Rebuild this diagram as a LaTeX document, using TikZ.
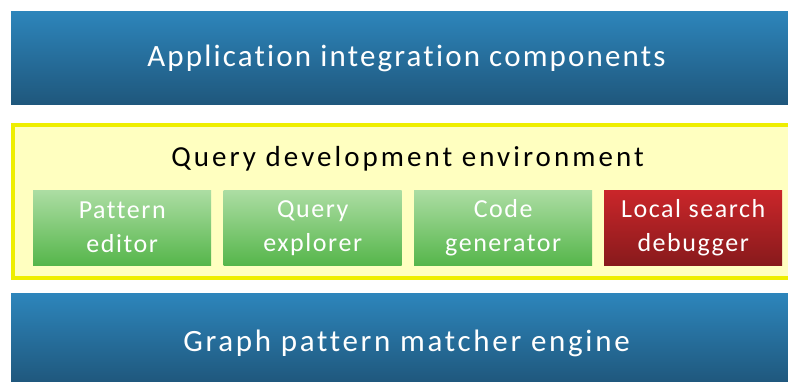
\documentclass[tikz,border=0pt]{standalone}
\usepackage{fontspec}
\setmainfont{Carlito}
\newfontfamily\titlefont[LetterSpace=7,Ligatures=NoCommon]{Carlito}
\newfontfamily\envfont[LetterSpace=10.5,Ligatures=NoCommon]{Carlito}
\newfontfamily\enginefont[LetterSpace=8.7,Ligatures=NoCommon]{Carlito}
\newfontfamily\toolfont[LetterSpace=6,Ligatures=NoCommon]{Carlito}
\begin{document}
\begin{tikzpicture}[x=1pt,y=-1pt,
  bluebar/.style={anchor=north west, minimum width=790pt, minimum height=93pt,
    inner sep=0pt, top color=barTop, bottom color=barBottom, draw=none},
  envbox/.style={anchor=north west, minimum width=790pt, minimum height=153.5pt,
    inner sep=0pt, fill=envFill, draw=envLine, line width=4pt},
  tool/.style={anchor=north west, minimum width=178pt, minimum height=75pt,
    inner sep=0pt, draw=none, text=white, align=center,
    font=\toolfont\fontsize{26}{34}\selectfont},
  greentool/.style={tool, top color=greenTop, bottom color=greenBottom},
  redtool/.style={tool, top color=redTop, bottom color=redBottom},
  title/.style={anchor=base, inner sep=0pt}
]
\definecolor{barTop}{HTML}{2D85BB}
\definecolor{barBottom}{HTML}{1F577C}
\definecolor{envFill}{HTML}{FFFFC0}
\definecolor{envLine}{HTML}{EEEE00}
\definecolor{greenTop}{HTML}{ACDDA3}
\definecolor{greenBottom}{HTML}{56B64B}
\definecolor{redTop}{HTML}{CA262A}
\definecolor{redBottom}{HTML}{881A1C}

\useasboundingbox (0,0) rectangle (788,381);

% application layer
\node[bluebar, minimum height=93pt] (app) at (11,11) {};
\node[title, text=white, font=\titlefont\fontsize{31}{36}\selectfont] (appText) at (406.5,66.7)
  {Application integration components};

% query development environment
\node[envbox] (env) at (11,122.5) {};
\node[title, font=\envfont\fontsize{29}{34}\selectfont] (envText) at (407.5,166.7)
  {Query development environment};

\node[greentool, yshift=-1pt] (pattern) at (33,189) {Pattern\\editor};
\node[greentool, yshift=-1pt] (explorer) at (223.5,189) {Query\\explorer};
\node[greentool, yshift=-1pt] (codegen) at (414,189) {Code\\generator};
\node[redtool, yshift=-1pt] (debugger) at (604,189) {Local search\\debugger};

% engine layer
\node[bluebar, minimum height=90pt] (engine) at (11,293.5) {};
\node[title, text=white, font=\enginefont\fontsize{31}{36}\selectfont] (engineText) at (406.5,351.7)
  {Graph pattern matcher engine};
\end{tikzpicture}
\end{document}
